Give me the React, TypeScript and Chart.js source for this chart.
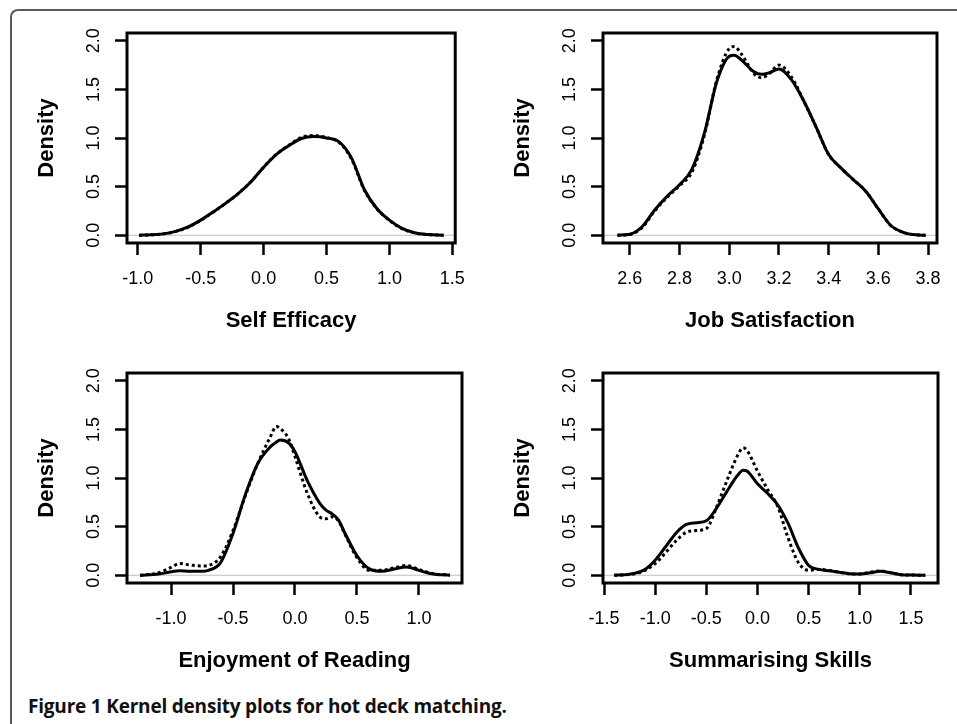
import React, { useEffect, useRef } from "react";
import { Chart, registerables } from "chart.js";

Chart.register(...registerables);

// ---------- shared axis values ----------
const densityTicks = [0.0, 0.5, 1.0, 1.5, 2.0];
const densityRange = [-0.08, 2.08];
const yAxisTitle = "Density";
const caption = "Figure 1 Kernel density plots for hot deck matching.";

// ---------- Self Efficacy ----------
const selfEfficacyTitle = "Self Efficacy";
const selfEfficacyTicks = [-1.0, -0.5, 0.0, 0.5, 1.0, 1.5];
const selfEfficacyRange = [-1.086, 1.523];
const selfEfficacyX = [-0.99, -0.9, -0.8, -0.7, -0.6, -0.5, -0.4, -0.3, -0.2, -0.1, 0.0, 0.1, 0.2, 0.3, 0.4, 0.5, 0.6, 0.7, 0.8, 0.9, 1.0, 1.1, 1.2, 1.3, 1.43];
const selfEfficacySolid = [0.0, 0.004, 0.014, 0.04, 0.085, 0.155, 0.24, 0.33, 0.43, 0.55, 0.7, 0.83, 0.92, 0.995, 1.015, 1.0, 0.96, 0.79, 0.47, 0.275, 0.155, 0.07, 0.025, 0.007, 0.0];
const selfEfficacyDotted = [0.0, 0.004, 0.013, 0.038, 0.083, 0.153, 0.238, 0.33, 0.43, 0.552, 0.7, 0.832, 0.925, 1.005, 1.025, 1.005, 0.955, 0.78, 0.465, 0.272, 0.152, 0.068, 0.024, 0.007, 0.0];

// ---------- Job Satisfaction ----------
const jobSatisfactionTitle = "Job Satisfaction";
const jobSatisfactionTicks = [2.6, 2.8, 3.0, 3.2, 3.4, 3.6, 3.8];
const jobSatisfactionRange = [2.492, 3.836];
const jobSatisfactionX = [2.55, 2.6, 2.65, 2.7, 2.75, 2.8, 2.85, 2.9, 2.95, 3.0, 3.02, 3.05, 3.1, 3.13, 3.16, 3.2, 3.25, 3.3, 3.35, 3.4, 3.45, 3.5, 3.55, 3.6, 3.65, 3.7, 3.75, 3.79];
const jobSatisfactionSolid = [0.0, 0.01, 0.09, 0.26, 0.4, 0.52, 0.68, 1.05, 1.58, 1.84, 1.85, 1.8, 1.68, 1.655, 1.67, 1.71, 1.6, 1.38, 1.11, 0.83, 0.69, 0.57, 0.45, 0.27, 0.1, 0.03, 0.004, 0.0];
const jobSatisfactionDotted = [0.0, 0.008, 0.08, 0.25, 0.39, 0.51, 0.65, 1.03, 1.6, 1.92, 1.94, 1.86, 1.66, 1.62, 1.66, 1.75, 1.63, 1.38, 1.11, 0.83, 0.69, 0.57, 0.45, 0.27, 0.1, 0.03, 0.004, 0.0];

// ---------- Enjoyment of Reading ----------
const readingTitle = "Enjoyment of Reading";
const readingTicks = [-1.0, -0.5, 0.0, 0.5, 1.0];
const readingRange = [-1.355, 1.347];
const readingX = [-1.25, -1.1, -1.0, -0.93, -0.85, -0.75, -0.7, -0.6, -0.5, -0.4, -0.3, -0.2, -0.15, -0.12, -0.05, 0.0, 0.1, 0.2, 0.25, 0.3, 0.35, 0.4, 0.5, 0.6, 0.7, 0.8, 0.9, 1.0, 1.1, 1.25];
const readingSolid = [0.0, 0.012, 0.035, 0.045, 0.04, 0.04, 0.05, 0.13, 0.43, 0.83, 1.15, 1.32, 1.37, 1.39, 1.36, 1.27, 0.97, 0.74, 0.67, 0.63, 0.57, 0.44, 0.2, 0.065, 0.04, 0.065, 0.085, 0.05, 0.015, 0.0];
const readingDotted = [0.0, 0.025, 0.08, 0.12, 0.105, 0.095, 0.1, 0.19, 0.46, 0.82, 1.15, 1.42, 1.53, 1.51, 1.4, 1.22, 0.84, 0.6, 0.58, 0.6, 0.56, 0.43, 0.18, 0.05, 0.05, 0.075, 0.1, 0.06, 0.02, 0.0];

// ---------- Summarising Skills ----------
const summarisingTitle = "Summarising Skills";
const summarisingTicks = [-1.5, -1.0, -0.5, 0.0, 0.5, 1.0, 1.5];
const summarisingRange = [-1.51, 1.764];
const summarisingX = [-1.4, -1.3, -1.2, -1.1, -1.0, -0.9, -0.8, -0.7, -0.6, -0.5, -0.4, -0.3, -0.2, -0.14, -0.1, 0.0, 0.1, 0.2, 0.3, 0.4, 0.5, 0.6, 0.7, 0.8, 0.9, 1.0, 1.1, 1.2, 1.3, 1.4, 1.5, 1.64];
const summarisingSolid = [0.0, 0.005, 0.02, 0.06, 0.155, 0.29, 0.43, 0.52, 0.54, 0.56, 0.69, 0.86, 1.02, 1.08, 1.07, 0.94, 0.84, 0.72, 0.53, 0.28, 0.1, 0.06, 0.045, 0.03, 0.015, 0.012, 0.025, 0.04, 0.025, 0.006, 0.002, 0.0];
const summarisingDotted = [0.0, 0.003, 0.015, 0.05, 0.12, 0.23, 0.35, 0.44, 0.46, 0.48, 0.7, 0.97, 1.22, 1.31, 1.28, 1.07, 0.88, 0.7, 0.38, 0.13, 0.05, 0.06, 0.05, 0.03, 0.015, 0.012, 0.03, 0.045, 0.025, 0.006, 0.002, 0.0];

// ---------- layout constants ----------
const PANEL_W = 478;
const PANEL_H = 340;
const AREA_LEFT = 127;
const AREA_TOP = 33;
const AREA_RIGHT = 462;
const AREA_BOTTOM = 243;
const FONT = '"Liberation Sans", Arial, Helvetica, sans-serif';

const framePlugin = {
  id: "rframe",
  beforeDatasetsDraw(chart: any) {
    const { ctx, chartArea, scales } = chart;
    const y0 = scales.y.getPixelForValue(0);
    ctx.save();
    ctx.strokeStyle = "#bdbdbd";
    ctx.lineWidth = 1;
    ctx.beginPath();
    ctx.moveTo(chartArea.left, y0);
    ctx.lineTo(chartArea.right, y0);
    ctx.stroke();
    ctx.restore();
  },
  afterDatasetsDraw(chart: any) {
    const { ctx, chartArea } = chart;
    ctx.save();
    ctx.strokeStyle = "#000";
    ctx.lineWidth = 3;
    ctx.strokeRect(chartArea.left, chartArea.top, chartArea.right - chartArea.left, chartArea.bottom - chartArea.top);
    ctx.restore();
  },
};

type PanelProps = {
  left: number;
  top: number;
  title: string;
  xs: number[];
  solid: number[];
  dotted: number[];
  ticks: number[];
  range: number[];
};

function Panel({ left, top, title, xs, solid, dotted, ticks, range }: PanelProps) {
  const ref = useRef<HTMLCanvasElement>(null);
  useEffect(() => {
    if (!ref.current) return;
    const chart = new Chart(ref.current, {
      type: "line",
      data: {
        datasets: [
          {
            data: xs.map((x, i) => ({ x, y: dotted[i] })),
            borderColor: "#000",
            borderWidth: 3,
            borderDash: [3, 3],
            pointRadius: 0,
            cubicInterpolationMode: "monotone",
            fill: false,
          },
          {
            data: xs.map((x, i) => ({ x, y: solid[i] })),
            borderColor: "#000",
            borderWidth: 3,
            pointRadius: 0,
            cubicInterpolationMode: "monotone",
            fill: false,
          },
        ],
      } as any,
      options: {
        responsive: false,
        animation: false,
        devicePixelRatio: 1,
        events: [],
        layout: { padding: { top: AREA_TOP, right: PANEL_W - AREA_RIGHT, left: 0, bottom: 0 } },
        plugins: { legend: { display: false }, tooltip: { enabled: false } },
        scales: {
          x: {
            type: "linear",
            position: "bottom",
            min: range[0],
            max: range[1],
            afterBuildTicks: (s: any) => {
              s.ticks = ticks.map((v) => ({ value: v }));
            },
            afterFit: (s: any) => {
              s.height = PANEL_H - AREA_BOTTOM;
            },
            grid: { drawOnChartArea: false, drawTicks: true, tickLength: 12, tickWidth: 2.5, tickColor: "#000", color: "#000" },
            border: { display: false },
            ticks: {
              autoSkip: false,
              maxRotation: 0,
              padding: 13,
              color: "#000",
              font: { family: FONT, size: 18 },
              callback: (v: any) => Number(v).toFixed(1),
            },
            title: {
              display: true,
              text: title,
              color: "#000",
              font: { family: FONT, size: 22, weight: "bold" },
              padding: { top: 0, bottom: 5.5 },
            },
          },
          y: {
            type: "linear",
            position: "left",
            min: densityRange[0],
            max: densityRange[1],
            afterBuildTicks: (s: any) => {
              s.ticks = densityTicks.map((v) => ({ value: v }));
            },
            afterFit: (s: any) => {
              s.width = AREA_LEFT;
            },
            grid: { drawOnChartArea: false, drawTicks: true, tickLength: 12, tickWidth: 2.5, tickColor: "#000", color: "#000" },
            border: { display: false },
            ticks: {
              autoSkip: false,
              minRotation: 90,
              maxRotation: 90,
              crossAlign: "center",
              padding: 8,
              color: "#000",
              font: { family: FONT, size: 18 },
              callback: (v: any) => Number(v).toFixed(1),
            },
            title: {
              display: true,
              text: yAxisTitle,
              color: "#000",
              font: { family: FONT, size: 22, weight: "bold" },
              padding: { top: 34, bottom: 0 },
            },
          },
        },
      } as any,
      plugins: [framePlugin],
    });
    return () => chart.destroy();
  }, []);
  return (
    <canvas
      ref={ref}
      width={PANEL_W}
      height={PANEL_H}
      style={{ position: "absolute", left, top, width: PANEL_W, height: PANEL_H }}
    />
  );
}

export default function App() {
  return (
    <div
      style={{
        position: "absolute",
        left: 0,
        top: 0,
        width: 957,
        height: 724,
        background: "#fff",
        overflow: "hidden",
      }}
    >
      <div
        style={{
          position: "absolute",
          left: 10,
          top: 9,
          width: 980,
          height: 760,
          borderTop: "2px solid #5a5a5a",
          borderLeft: "2px solid #5a5a5a",
          borderTopLeftRadius: 8,
          boxSizing: "border-box",
        }}
      />
      <Panel left={0} top={0} title={selfEfficacyTitle} xs={selfEfficacyX} solid={selfEfficacySolid} dotted={selfEfficacyDotted} ticks={selfEfficacyTicks} range={selfEfficacyRange} />
      <Panel left={476} top={0} title={jobSatisfactionTitle} xs={jobSatisfactionX} solid={jobSatisfactionSolid} dotted={jobSatisfactionDotted} ticks={jobSatisfactionTicks} range={jobSatisfactionRange} />
      <Panel left={0} top={340} title={readingTitle} xs={readingX} solid={readingSolid} dotted={readingDotted} ticks={readingTicks} range={readingRange} />
      <Panel left={476} top={340} title={summarisingTitle} xs={summarisingX} solid={summarisingSolid} dotted={summarisingDotted} ticks={summarisingTicks} range={summarisingRange} />
      <div
        style={{
          position: "absolute",
          left: 28,
          top: 696,
          fontFamily: '"Open Sans", "Noto Sans", sans-serif',
          fontWeight: 700,
          fontSize: 19,
          lineHeight: "20px",
          color: "#111",
          whiteSpace: "nowrap",
          letterSpacing: "-0.2px",
        }}
      >
        {caption}
      </div>
    </div>
  );
}
